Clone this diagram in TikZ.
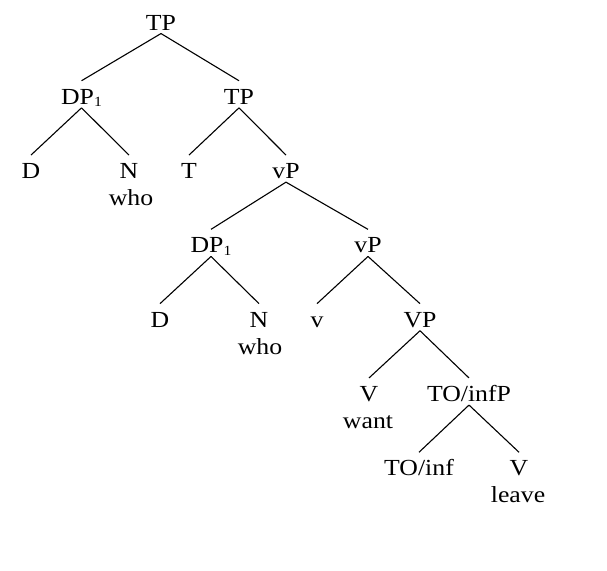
\documentclass[tikz,border=0pt]{standalone}
\usepackage{fontspec}
\setmainfont{Liberation Serif}[FakeStretch=1.12]
\usetikzlibrary{positioning}

\newcommand{\subidx}[1]{\raisebox{-2.5pt}{\fontsize{14}{14}\selectfont #1}}

\begin{document}
\begin{tikzpicture}[x=1pt,y=-1pt,line width=1.1pt,
  every node/.style={font=\fontsize{23}{27}\selectfont},
  cat/.style={anchor=base,inner sep=0pt,text height=23pt,text depth=3pt},
  word/.style={anchor=base,inner sep=0pt}]
\useasboundingbox (0,0) rectangle (607,570);
% categories, row by row
\node[cat] (tp) at (161,30) {TP};
\node[cat] (dp1) at (81.5,104.3) {DP\subidx{1}};
\node[cat] (tp2) at (239,104.3) {TP};
\node[cat] (d1) at (31,178.6) {D};
\node[cat] (n1) at (129,178.6) {N};
\node[word] (who1) at (131,205.6) {who};
\node[cat] (t) at (189,178.6) {T};
\node[cat] (vp1) at (286,178.6) {vP};
\node[cat] (dp2) at (211,252.9) {DP\subidx{1}};
\node[cat] (vp2) at (368,252.9) {vP};
\node[cat] (d2) at (160,327.2) {D};
\node[cat] (n2) at (259,327.2) {N};
\node[word] (who2) at (260,354.2) {who};
\node[cat] (v) at (317,327.2) {v};
\node[cat] (vp) at (420,327.2) {VP};
\node[cat] (vverb) at (369,401.5) {V};
\node[word] (want) at (368,428.5) {want};
\node[cat] (toinfp) at (469,401.5) {TO/infP};
\node[cat] (toinf) at (419,475.8) {TO/inf};
\node[cat] (vleave) at (519,475.8) {V};
\node[word] (leave) at (518,502.8) {leave};
% branches
\draw (tp.south) -- (dp1.north);
\draw (tp.south) -- (tp2.north);
\draw (dp1.south) -- (d1.north);
\draw (dp1.south) -- (n1.north);
\draw (tp2.south) -- (t.north);
\draw (tp2.south) -- (vp1.north);
\draw (vp1.south) -- (dp2.north);
\draw (vp1.south) -- (vp2.north);
\draw (dp2.south) -- (d2.north);
\draw (dp2.south) -- (n2.north);
\draw (vp2.south) -- (v.north);
\draw (vp2.south) -- (vp.north);
\draw (vp.south) -- (vverb.north);
\draw (vp.south) -- (toinfp.north);
\draw (toinfp.south) -- (toinf.north);
\draw (toinfp.south) -- (vleave.north);
\end{tikzpicture}
\end{document}
